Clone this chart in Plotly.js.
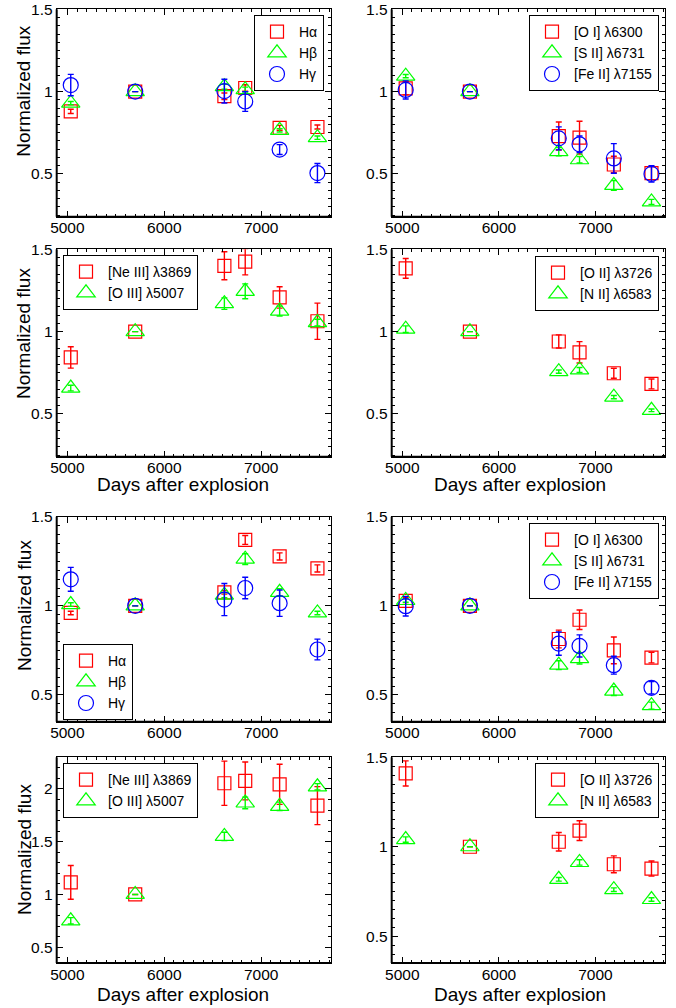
<!DOCTYPE html>
<html><head><meta charset="utf-8">
<script src="https://cdn.plot.ly/plotly-3.0.1.min.js"></script>
<style>html,body{margin:0;padding:0;background:#fff}</style>
</head><body><div id="chart" style="width:676px;height:1008px"></div>
<script>
// Epochs (days after explosion)
const days = [5035, 5700, 6620, 6835, 7190, 7580];
const xTickVals = [5000, 6000, 7000];

// Panel 1: Balmer lines (set A)
const haA = [0.88, 1.0, 0.972, 1.022, 0.78, 0.785];
const haAerr = [0.013, 0, 0.02, 0.02, 0.015, 0.012];
const hbA = [0.93, 1.0, 1.03, 1.012, 0.765, 0.72];
const hbAerr = [0.01, 0, 0.015, 0.015, 0.01, 0.01];
const hgA = [1.04, 1.0, 1.003, 0.94, 0.648, 0.505];
const hgAerr = [0.065, 0, 0.072, 0.06, 0.03, 0.058];

// Panel 2: low-ionization lines (set A)
const oiA = [1.02, 1.0, 0.73, 0.72, 0.557, 0.505];
const oiAerr = [0.04, 0, 0.085, 0.1, 0.05, 0.04];
const siiA = [1.094, 1.0, 0.635, 0.586, 0.43, 0.33];
const siiAerr = [0.01, 0, 0.025, 0.02, 0.03, 0.015];
const feiiA = [1.01, 1.0, 0.716, 0.68, 0.594, 0.5];
const feiiAerr = [0.055, 0, 0.07, 0.05, 0.09, 0.05];

// Panel 3: high-ionization lines (set A)
const neiiiA = [0.843, 1.0, 1.40, 1.425, 1.208, 1.063];
const neiiiAerr = [0.065, 0, 0.085, 0.08, 0.065, 0.11];
const oiiiA = [0.657, 1.0, 1.17, 1.245, 1.125, 1.055];
const oiiiAerr = [0.017, 0, 0.035, 0.045, 0.03, 0.02];

// Panel 4: [O II], [N II] (set A)
const oiiA = [1.384, 1.0, 0.94, 0.874, 0.747, 0.682];
const oiiAerr = [0.06, 0, 0.04, 0.065, 0.03, 0.03];
const niiA = [1.015, 1.0, 0.757, 0.767, 0.602, 0.522];
const niiAerr = [0.02, 0, 0.01, 0.015, 0.01, 0.008];

// Panel 5: Balmer lines (set B)
const haB = [0.96, 1.0, 1.076, 1.37, 1.277, 1.21];
const haBerr = [0.01, 0, 0.01, 0.025, 0.02, 0.02];
const hbB = [1.007, 1.0, 1.06, 1.262, 1.076, 0.96];
const hbBerr = [0.01, 0, 0.015, 0.03, 0.02, 0.01];
const hgB = [1.149, 1.0, 1.035, 1.1, 1.015, 0.755];
const hgBerr = [0.067, 0, 0.09, 0.06, 0.074, 0.058];

// Panel 6: low-ionization lines (set B)
const oiB = [1.028, 1.0, 0.814, 0.922, 0.75, 0.71];
const oiBerr = [0.02, 0, 0.05, 0.055, 0.075, 0.03];
const siiB = [1.03, 1.0, 0.667, 0.704, 0.522, 0.44];
const siiBerr = [0.01, 0, 0.025, 0.03, 0.025, 0.02];
const feiiB = [0.998, 1.0, 0.788, 0.775, 0.667, 0.54];
const feiiBerr = [0.055, 0, 0.065, 0.062, 0.05, 0.035];

// Panel 7: high-ionization lines (set B)
const neiiiB = [1.114, 1.0, 2.054, 2.076, 2.044, 1.842];
const neiiiBerr = [0.16, 0, 0.21, 0.18, 0.19, 0.18];
const oiiiB = [0.75, 1.0, 1.55, 1.867, 1.835, 2.02];
const oiiiBerr = [0.03, 0, 0.04, 0.055, 0.04, 0.03];

// Panel 8: [O II], [N II] (set B)
const oiiB = [1.41, 1.0, 1.028, 1.09, 0.902, 0.878];
const oiiBerr = [0.07, 0, 0.052, 0.055, 0.047, 0.042];
const niiB = [1.04, 1.0, 0.818, 0.912, 0.76, 0.705];
const niiBerr = [0.015, 0, 0.01, 0.015, 0.01, 0.01];

const lblHa = 'Hα', lblHb = 'Hβ', lblHg = 'Hγ';
const lblOI = '[O I] λ6300', lblSII = '[S II] λ6731', lblFeII = '[Fe II] λ7155';
const lblNeIII = '[Ne III] λ3869', lblOIII = '[O III] λ5007';
const lblOII = '[O II] λ3726', lblNII = '[N II] λ6583';
const yTitle = 'Normalized flux', xTitle = 'Days after explosion';

const RED = '#ff0000', GREEN = '#00ff00', BLUE = '#0000ff';
const SQ = {symbol: 'square-open', size: 13, color: RED};
const TR = {symbol: 'triangle-up-open', size: 16, color: GREEN};
const CI = {symbol: 'circle-open', size: 15, color: BLUE};
const FONT = 'Liberation Sans, Arial, Helvetica, sans-serif';

function series(name, y, err, st, p) {
  const n = p === 1 ? '' : String(p);
  return {
    type: 'scatter', mode: 'markers', x: days, y: y, name: name,
    xaxis: 'x' + n, yaxis: 'y' + n, legend: 'legend' + n,
    marker: {symbol: st.symbol, size: st.size, color: st.color, line: {width: 1.2, color: st.color}},
    error_y: {type: 'data', array: err, visible: true, color: st.color, thickness: 1.4, width: 3},
    hoverinfo: 'skip', cliponaxis: false
  };
}

const data = [
  series(lblHa, haA, haAerr, SQ, 1), series(lblHb, hbA, hbAerr, TR, 1), series(lblHg, hgA, hgAerr, CI, 1),
  series(lblOI, oiA, oiAerr, SQ, 2), series(lblSII, siiA, siiAerr, TR, 2), series(lblFeII, feiiA, feiiAerr, CI, 2),
  series(lblNeIII, neiiiA, neiiiAerr, SQ, 3), series(lblOIII, oiiiA, oiiiAerr, TR, 3),
  series(lblOII, oiiA, oiiAerr, SQ, 4), series(lblNII, niiA, niiAerr, TR, 4),
  series(lblHa, haB, haBerr, SQ, 5), series(lblHb, hbB, hbBerr, TR, 5), series(lblHg, hgB, hgBerr, CI, 5),
  series(lblOI, oiB, oiBerr, SQ, 6), series(lblSII, siiB, siiBerr, TR, 6), series(lblFeII, feiiB, feiiBerr, CI, 6),
  series(lblNeIII, neiiiB, neiiiBerr, SQ, 7), series(lblOIII, oiiiB, oiiiBerr, TR, 7),
  series(lblOII, oiiB, oiiBerr, SQ, 8), series(lblNII, niiB, niiBerr, TR, 8)
];

const W = 676, H = 1008;
const colX = [[56.7, 331], [391.7, 665]];
const rowY = [[9.3, 216.7], [249.3, 456.7], [516.7, 721.7], [757.3, 963]];
const yRanges = [[0.24, 1.5001], [0.24, 1.5001], [0.24, 1.5001], [0.24, 1.5001],
                 [0.35, 1.5001], [0.35, 1.5001], [0.35, 2.3], [0.35, 1.5001]];
const yMinor = [0.05, 0.05, 0.05, 0.05, 0.05, 0.05, 0.1, 0.05];

const layout = {
  width: W, height: H, margin: {l: 0, r: 0, t: 0, b: 0},
  paper_bgcolor: '#fff', plot_bgcolor: '#fff',
  font: {family: FONT, color: '#000'},
  showlegend: true, shapes: [], annotations: []
};

for (let p = 1; p <= 8; p++) {
  const n = p === 1 ? '' : String(p);
  const col = (p - 1) % 2, row = Math.floor((p - 1) / 2);
  const xd = [colX[col][0] / W, colX[col][1] / W];
  const yd = [1 - rowY[row][1] / H, 1 - rowY[row][0] / H];
  layout['xaxis' + n] = {
    domain: xd, anchor: 'y' + n, range: [4890, 7720], tickmode: 'array', tickvals: xTickVals,
    showline: true, linecolor: '#000', linewidth: 1, mirror: 'ticks',
    ticks: 'inside', ticklen: 6, tickwidth: 1, tickcolor: '#000', ticklabelstandoff: -3,
    minor: {ticks: 'inside', ticklen: 3, dtick: 100, tick0: 0, tickcolor: '#000', tickwidth: 1, showgrid: false},
    showgrid: false, zeroline: false, tickfont: {size: 15.5, family: FONT, color: '#000'}, fixedrange: true
  };
  layout['yaxis' + n] = {
    domain: yd, anchor: 'x' + n, range: yRanges[p - 1], tickmode: 'linear', tick0: 0, dtick: 0.5,
    showline: true, linecolor: '#000', linewidth: 1, mirror: 'ticks',
    ticks: 'inside', ticklen: 6, tickwidth: 1, tickcolor: '#000',
    minor: {ticks: 'inside', ticklen: 3, dtick: yMinor[p - 1], tick0: 0, tickcolor: '#000', tickwidth: 1, showgrid: false},
    showgrid: false, zeroline: false, tickfont: {size: 15.5, family: FONT, color: '#000'}, fixedrange: true
  };
  layout.shapes.push({type: 'line', xref: 'x' + n + ' domain', yref: 'y' + n + ' domain', x0: 0, x1: 0, y0: 0, y1: 1, line: {width: 2, color: '#000'}});
  layout.shapes.push({type: 'line', xref: 'x' + n + ' domain', yref: 'y' + n + ' domain', x0: 0, x1: 1, y0: 0, y1: 0, line: {width: 2, color: '#000'}});
}

// legends
const legPos = [
  {x: 324, y: 15, xa: 'right', ya: 'top'},
  {x: 659, y: 15, xa: 'right', ya: 'top'},
  {x: 63, y: 255, xa: 'left', ya: 'top'},
  {x: 659, y: 256, xa: 'right', ya: 'top'},
  {x: 63, y: 720, xa: 'left', ya: 'bottom'},
  {x: 659, y: 523, xa: 'right', ya: 'top'},
  {x: 63, y: 763, xa: 'left', ya: 'top'},
  {x: 659, y: 763, xa: 'right', ya: 'top'}
];
legPos.forEach((L, i) => {
  const key = i === 0 ? 'legend' : 'legend' + (i + 1);
  layout[key] = {
    x: L.x / W, y: 1 - L.y / H, xanchor: L.xa, yanchor: L.ya, xref: 'paper', yref: 'paper',
    bgcolor: '#fff', bordercolor: '#000', borderwidth: 1, itemwidth: 34,
    font: {size: 14, family: FONT, color: '#000'}, itemclick: false, itemdoubleclick: false
  };
});

// axis titles
const yTitleCenters = [91.7, 334, 606, 850];
yTitleCenters.forEach(c => {
  layout.annotations.push({text: yTitle, xref: 'paper', yref: 'paper', x: 24 / W, y: 1 - c / H,
    xanchor: 'center', yanchor: 'middle', textangle: -90, showarrow: false, font: {size: 19, family: FONT, color: '#000'}});
});
[[183.3, 484.5], [519.7, 484.5], [183.3, 994], [519.7, 994]].forEach(c => {
  layout.annotations.push({text: xTitle, xref: 'paper', yref: 'paper', x: c[0] / W, y: 1 - c[1] / H,
    xanchor: 'center', yanchor: 'middle', showarrow: false, font: {size: 19, family: FONT, color: '#000'}});
});

Plotly.newPlot('chart', data, layout, {displayModeBar: false, staticPlot: true});
</script></body></html>
